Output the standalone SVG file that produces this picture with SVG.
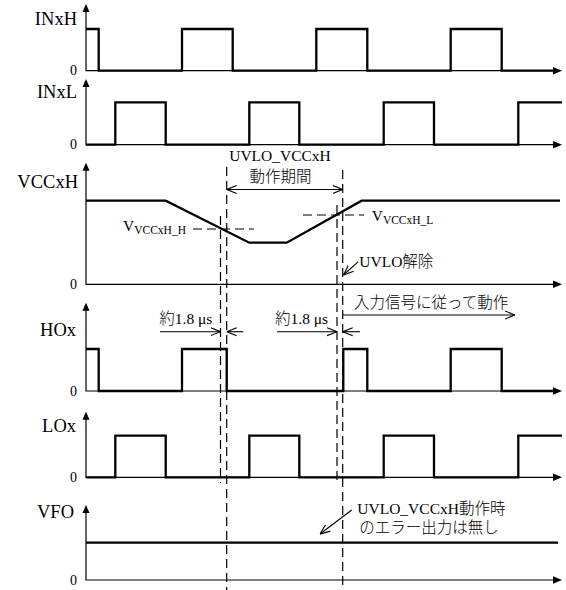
<svg xmlns="http://www.w3.org/2000/svg" width="566" height="590" viewBox="0 0 566 590">
<style>
.bg{fill:#fff}
.axis{fill:none;stroke:#000;stroke-width:1.2}
.sig{fill:none;stroke:#000;stroke-width:2.3;stroke-linejoin:miter}
.dash{fill:none;stroke:#000;stroke-width:1.2;stroke-dasharray:9 5}
.thin{fill:none;stroke:#000;stroke-width:1.1}
.ah{fill:#000}
.lbl{font-family:"Liberation Serif","Noto Sans CJK JP",serif;font-size:18.5px;fill:#000}
.zero{font-family:"Liberation Serif",serif;font-size:14px;fill:#000;text-anchor:end}
.note{font-family:"Liberation Serif","Noto Sans CJK JP",serif;font-size:15.5px;fill:#000;font-weight:300}
.sub{font-size:11.5px}
</style>
<defs>
<marker id="open" viewBox="0 0 10 10" refX="10" refY="5" markerWidth="10" markerHeight="10" markerUnits="userSpaceOnUse" orient="auto">
<path d="M0,1 L10,5 L0,9" fill="none" stroke="#000" stroke-width="1.1"/>
</marker>
<marker id="openS" viewBox="0 0 10 10" refX="10" refY="5" markerWidth="10" markerHeight="10" markerUnits="userSpaceOnUse" orient="auto-start-reverse">
<path d="M0,1 L10,5 L0,9" fill="none" stroke="#000" stroke-width="1.1"/>
</marker>
</defs>
<rect class="bg" x="0" y="0" width="566" height="590"/>

<g id="INxH">
<path class="axis" d="M86,10 V70.7 H555"/>
<path class="ah" d="M86,4 L82.5,12 L89.5,12 Z"/>
<path class="ah" d="M562,70.7 L553,67 L553,74.4 Z"/>
<path class="sig" d="M86,29 H98.7 V70.7 H182 V29 H232.7 V70.7 H316.3 V29 H367.3 V70.7 H450.7 V29 H501.7 V70.7 H553"/>
<text class="lbl" x="77" y="25" text-anchor="end">INxH</text>
<text class="zero" x="77" y="75">0</text>
</g>

<g id="INxL">
<path class="axis" d="M86,85 V144.7 H555"/>
<path class="ah" d="M86,79 L82.5,87 L89.5,87 Z"/>
<path class="ah" d="M562,144.7 L553,141 L553,148.4 Z"/>
<path class="sig" d="M86,144.7 H115.3 V102.3 H165.7 V144.7 H249.3 V102.3 H299.3 V144.7 H383.7 V102.3 H434 V144.7 H518.3 V102.3 H562"/>
<text class="lbl" x="77" y="98" text-anchor="end">INxL</text>
<text class="zero" x="77" y="149">0</text>
</g>

<g id="VCCxH">
<path class="axis" d="M86,169 V284.3 H555"/>
<path class="ah" d="M86,162.7 L82.5,170.7 L89.5,170.7 Z"/>
<path class="ah" d="M562,284.3 L553,280.6 L553,288 Z"/>
<path class="sig" d="M86,200.7 H165.7 L249.3,242.7 H286.7 L361.7,200.7 H560"/>
<text class="lbl" x="78" y="187.7" text-anchor="end">VCCxH</text>
<text class="zero" x="77" y="289">0</text>
</g>

<g id="HOx">
<path class="axis" d="M86,309 V391 H555"/>
<path class="ah" d="M86,302.7 L82.5,310.7 L89.5,310.7 Z"/>
<path class="ah" d="M562,391 L553,387.3 L553,394.7 Z"/>
<path class="sig" d="M86,349 H98.7 V391 H182 V349 H226.7 V391 H343.3 V349 H367.3 V391 H450.7 V349 H501.7 V391 H553"/>
<text class="lbl" x="76" y="336" text-anchor="end">HOx</text>
<text class="zero" x="77" y="396">0</text>
</g>

<g id="LOx">
<path class="axis" d="M86,418 V477.3 H555"/>
<path class="ah" d="M86,411.7 L82.5,419.7 L89.5,419.7 Z"/>
<path class="ah" d="M562,477.3 L553,473.6 L553,481 Z"/>
<path class="sig" d="M86,477.3 H115.3 V435.7 H165.7 V477.3 H249.3 V435.7 H299.3 V477.3 H383.7 V435.7 H434 V477.3 H518.3 V435.7 H562"/>
<text class="lbl" x="76" y="431.7" text-anchor="end">LOx</text>
<text class="zero" x="77" y="482">0</text>
</g>

<g id="VFO">
<path class="axis" d="M86,511 V580 H555"/>
<path class="ah" d="M86,505 L82.5,513 L89.5,513 Z"/>
<path class="ah" d="M562,580 L553,576.3 L553,583.7 Z"/>
<path class="sig" d="M86,542.7 H558"/>
<text class="lbl" x="74" y="518.3" text-anchor="end">VFO</text>
<text class="zero" x="77" y="585">0</text>
</g>

<g id="connectors">
<line class="dash" x1="226.7" y1="167" x2="226.7" y2="590"/>
<line class="dash" x1="220.5" y1="216" x2="220.5" y2="483"/>
<line class="dash" x1="342.7" y1="170" x2="342.7" y2="590"/>
<line class="dash" x1="337" y1="205" x2="337" y2="481"/>
<line class="dash" x1="193" y1="229" x2="254" y2="229"/>
<line class="dash" x1="303" y1="215" x2="364" y2="215"/>
<line class="thin" x1="226.7" y1="189.5" x2="342.7" y2="189.5" marker-start="url(#openS)" marker-end="url(#openS)"/>
<line class="thin" x1="358.3" y1="261.7" x2="343.5" y2="275" marker-end="url(#open)"/>
<line class="thin" x1="160" y1="331.7" x2="220.5" y2="331.7" marker-end="url(#open)"/>
<line class="thin" x1="243.3" y1="331.7" x2="226.7" y2="331.7" marker-end="url(#open)"/>
<line class="thin" x1="277" y1="331.7" x2="337" y2="331.7" marker-end="url(#open)"/>
<line class="thin" x1="360" y1="331.7" x2="342.7" y2="331.7" marker-end="url(#open)"/>
<line class="thin" x1="342.7" y1="315" x2="515" y2="315" marker-end="url(#open)"/>
<line class="thin" x1="351.7" y1="510" x2="320" y2="534" marker-end="url(#open)"/>
</g>

<g id="annotations">
<text class="note" x="280" y="161" text-anchor="middle">UVLO_VCCxH</text>
<text class="note" x="280.5" y="181.5" text-anchor="middle">動作期間</text>
<text class="note" x="123" y="231">V<tspan class="sub" dy="2.5">VCCxH_H</tspan></text>
<text class="note" x="371.7" y="221">V<tspan class="sub" dy="3">VCCxH_L</tspan></text>
<text class="note" x="359.3" y="266.7">UVLO解除</text>
<text class="note" x="159.3" y="324.3">約1.8 μs</text>
<text class="note" x="275" y="324.3">約1.8 μs</text>
<text class="note" x="354" y="308.3">入力信号に従って動作</text>
<text class="note" x="357.3" y="514">UVLO_VCCxH動作時</text>
<text class="note" x="359.3" y="532.7">のエラー出力は無し</text>
</g>
</svg>
